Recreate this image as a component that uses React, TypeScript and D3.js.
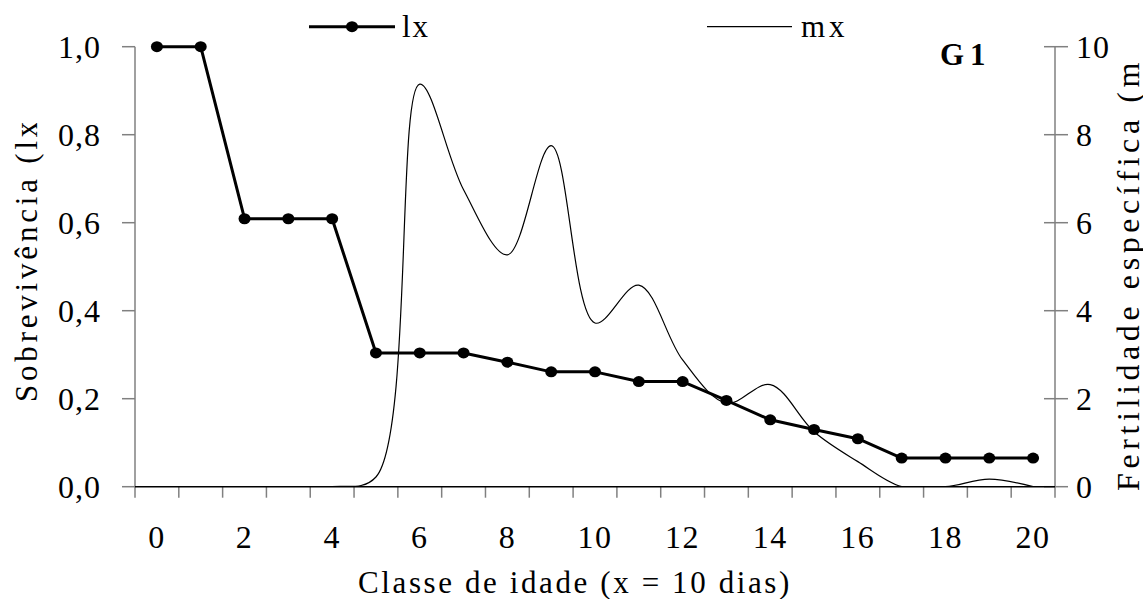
import React from "react";
import * as d3 from "d3";

const categories: number[] = d3.range(0, 21);
const xTickLabels: number[] = [0, 2, 4, 6, 8, 10, 12, 14, 16, 18, 20];
const lxValues: number[] = [1.0, 1.0, 0.609, 0.609, 0.609, 0.304, 0.304, 0.304, 0.283, 0.261, 0.261, 0.239, 0.239, 0.196, 0.152, 0.13, 0.109, 0.065, 0.065, 0.065, 0.065];
const mxValues: number[] = [0, 0, 0, 0, 0, 0.22, 9.15, 6.75, 5.27, 7.75, 3.72, 4.58, 2.88, 1.9, 2.32, 1.25, 0.57, 0, 0, 0.17, 0];
const leftTicks: number[] = [0, 0.2, 0.4, 0.6, 0.8, 1.0];
const rightTicks: number[] = [0, 2, 4, 6, 8, 10];

const W = 1143;
const H = 599;
const L = 135, R = 1055, T = 46.7, B = 486.7;
const FONT = "'Liberation Serif', 'Times New Roman', serif";

export default function App() {
  const x = d3.scaleBand<number>().domain(categories).range([L, R]).padding(0);
  const cx = (c: number) => (x(c) as number) + x.bandwidth() / 2;
  const yL = d3.scaleLinear().domain([0, 1]).range([B, T]);
  const yR = d3.scaleLinear().domain([0, 10]).range([B, T]);

  const lxLine = d3.line<number>().x((_, i) => cx(categories[i])).y((d) => yL(d));
  const mxLine = d3
    .line<number>()
    .x((_, i) => cx(categories[i]))
    .y((d) => yR(d))
    .curve(d3.curveCatmullRom.alpha(0.5));

  const boundaries = categories.map((c) => x(c) as number).concat([R]);
  const fmt = (v: number) => v.toFixed(1).replace(".", ",");

  return (
    <svg
      width={W}
      height={H}
      style={{ position: "absolute", left: 0, top: 0, background: "#fff", fontFamily: FONT }}
    >
      <defs>
        <clipPath id="plotClip">
          <rect x={L} y={T - 10} width={R - L} height={B - T + 10} />
        </clipPath>
        <clipPath id="leftTitleClip">
          <rect x={0} y={123} width={80} height={400} />
        </clipPath>
        <clipPath id="rightTitleClip">
          <rect x={1095} y={63} width={48} height={460} />
        </clipPath>
      </defs>
      <rect x={0} y={0} width={W} height={H} fill="#fff" />

      {/* left axis */}
      <line x1={L} x2={L} y1={T} y2={B} stroke="#808080" strokeWidth={1.5} />
      {leftTicks.map((t) => (
        <g key={"lt" + t}>
          <line x1={L - 13} x2={L} y1={yL(t)} y2={yL(t)} stroke="#808080" strokeWidth={1.5} />
          <text x={101} y={yL(t) + 11} textAnchor="end" fontSize={32} letterSpacing={1}>
            {fmt(t)}
          </text>
        </g>
      ))}

      {/* right axis */}
      <line x1={R} x2={R} y1={T} y2={B} stroke="#808080" strokeWidth={1.5} />
      {rightTicks.map((t) => (
        <g key={"rt" + t}>
          <line x1={R - 11} x2={R + 13} y1={yR(t)} y2={yR(t)} stroke="#808080" strokeWidth={1.5} />
          <text x={1076} y={yR(t) + 11} textAnchor="start" fontSize={32} letterSpacing={1}>
            {t}
          </text>
        </g>
      ))}

      {/* x axis */}
      {boundaries.map((b, i) => (
        <line key={"xt" + i} x1={b} x2={b} y1={B} y2={B + 11} stroke="#808080" strokeWidth={1.5} />
      ))}
      <line x1={L} x2={R} y1={B} y2={B} stroke="#000" strokeWidth={1.5} />
      {xTickLabels.map((t) => (
        <text key={"xl" + t} x={cx(t)} y={548} textAnchor="middle" fontSize={32} letterSpacing={1.5}>
          {t}
        </text>
      ))}

      {/* series */}
      <g clipPath="url(#plotClip)">
        <path d={mxLine(mxValues) || ""} fill="none" stroke="#000" strokeWidth={1.2} />
      </g>
      <path d={lxLine(lxValues) || ""} fill="none" stroke="#000" strokeWidth={3} strokeLinejoin="round" />
      {lxValues.map((v, i) => (
        <ellipse key={"pt" + i} cx={cx(categories[i])} cy={yL(v)} rx={6} ry={5.5} fill="#000" />
      ))}

      {/* titles */}
      <text x={575} y={593} textAnchor="middle" fontSize={31} letterSpacing={2.6}>
        Classe de idade (x = 10 dias)
      </text>
      <g clipPath="url(#leftTitleClip)">
        <text
          transform="translate(37,402) rotate(-90)"
          textAnchor="start"
          fontSize={31}
          letterSpacing={3.8}
        >
          Sobrevivência (lx)
        </text>
      </g>
      <g clipPath="url(#rightTitleClip)">
        <text
          transform="translate(1139,491) rotate(-90)"
          textAnchor="start"
          fontSize={32}
          letterSpacing={4.6}
        >
          Fertilidade específica (mx)
        </text>
      </g>

      {/* legend */}
      <line x1={309} x2={395} y1={26.7} y2={26.7} stroke="#000" strokeWidth={3} />
      <ellipse cx={352} cy={26.7} rx={6} ry={5.5} fill="#000" />
      <text x={402} y={37} fontSize={31} letterSpacing={2}>lx</text>
      <line x1={707} x2={792} y1={26.7} y2={26.7} stroke="#000" strokeWidth={1.2} />
      <text x={801} y={37} fontSize={31} letterSpacing={4}>mx</text>

      <text x={940} y={65} fontSize={31} fontWeight="bold" letterSpacing={6}>G1</text>
    </svg>
  );
}
